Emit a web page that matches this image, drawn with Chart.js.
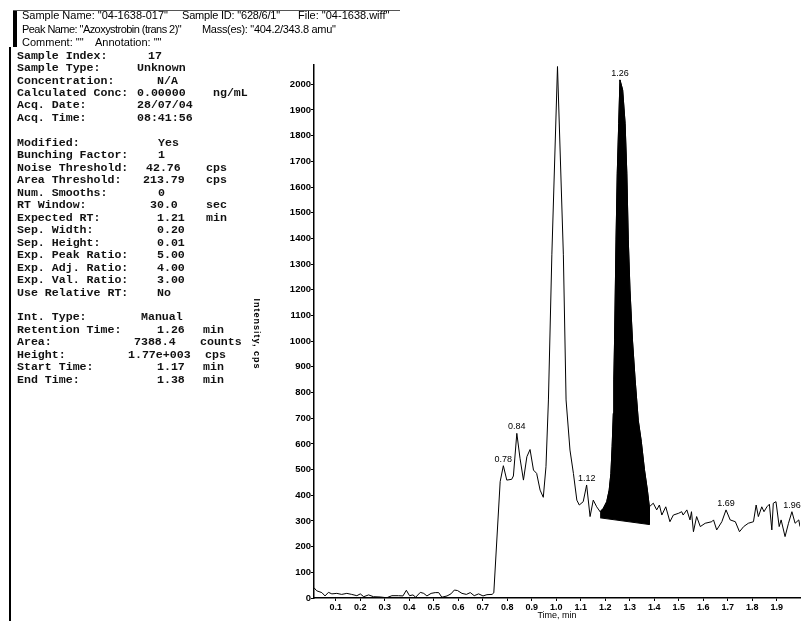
<!DOCTYPE html>
<html>
<head>
<meta charset="utf-8">
<script src="https://cdn.jsdelivr.net/npm/chart.js@4.4.1/dist/chart.umd.min.js"></script>
<style>
  html, body { margin: 0; padding: 0; background: #fff; }
  #wrap { position: relative; width: 801px; height: 621px; overflow: hidden; }
  #chart { position: absolute; left: 0; top: 0; }
  .hdr { position: absolute; font: 11px "Liberation Sans", Arial, sans-serif; white-space: pre; line-height: 1; color: #000; }
  .mono { position: absolute; font: bold 11.6px "Liberation Mono", "Courier New", monospace; white-space: pre; line-height: 1; color: #111; }
  .axt { position: absolute; font: 9px "Liberation Sans", Arial, sans-serif; white-space: pre; line-height: 1; color: #000; }
  #ytitle { font-weight: bold; letter-spacing: 1px; transform: translate(-50%, -50%) rotate(90deg); }
  #xtitle { transform: translate(-50%, -50%); }
  .bar { position: absolute; background: #000; }
</style>
</head>
<body>
<div id="wrap">
  <canvas id="chart" width="801" height="621"></canvas>
  <div class="bar" style="left:13px; top:10px; width:387px; height:1px; background:#555;"></div>
  <div class="bar" style="left:13px; top:11px; width:4px; height:36px;"></div>
  <div class="bar" style="left:9px; top:47px; width:1.5px; height:574px;"></div>

  <div class="hdr" style="left:22px; top:10px;">Sample Name: "04-1638-017"</div>
  <div class="hdr" style="left:182px; top:10px; letter-spacing:-0.2px;">Sample ID: "628/6/1"</div>
  <div class="hdr" style="left:298px; top:10px;">File: "04-1638.wiff"</div>
  <div class="hdr" style="left:22px; top:24px; letter-spacing:-0.55px;">Peak Name: "Azoxystrobin (trans 2)"</div>
  <div class="hdr" style="left:202px; top:24px; letter-spacing:-0.3px;">Mass(es): "404.2/343.8 amu"</div>
  <div class="hdr" style="left:22px; top:37px;">Comment: ""</div>
  <div class="hdr" style="left:95px; top:37px;">Annotation: ""</div>

  <div id="params"></div>

  <div class="axt" id="ytitle" style="left:256px; top:334px;">Intensity, cps</div>
  <div class="axt" id="xtitle" style="left:557px; top:615px;">Time, min</div>
</div>

<script>
// chromatogram trace (time in min, intensity in cps)
const times = [
  0.011, 0.022, 0.043, 0.056, 0.070, 0.084, 0.104, 0.124, 0.145, 0.165,
  0.186, 0.200, 0.214, 0.234, 0.254, 0.281, 0.308, 0.329, 0.356, 0.374,
  0.388, 0.401, 0.415, 0.426, 0.445, 0.459, 0.472, 0.489, 0.506, 0.520,
  0.533, 0.554, 0.570, 0.584, 0.597, 0.615, 0.633, 0.649, 0.665, 0.683,
  0.701, 0.717, 0.738, 0.745, 0.771, 0.784, 0.798, 0.818, 0.825, 0.839,
  0.852, 0.866, 0.880, 0.893, 0.907, 0.920, 0.934, 0.947, 0.958, 0.968,
  0.982, 1.005, 1.029, 1.040, 1.056, 1.070, 1.084, 1.094, 1.110, 1.124,
  1.138, 1.151, 1.165, 1.179, 1.192, 1.206, 1.216, 1.223, 1.228, 1.233,
  1.235, 1.238, 1.244, 1.249, 1.255, 1.260, 1.271, 1.281, 1.288, 1.294,
  1.301, 1.311, 1.322, 1.335, 1.347, 1.360, 1.372, 1.380, 1.396, 1.410,
  1.421, 1.431, 1.447, 1.464, 1.478, 1.500, 1.512, 1.518, 1.533, 1.546,
  1.552, 1.560, 1.573, 1.588, 1.608, 1.635, 1.642, 1.655, 1.676, 1.693,
  1.710, 1.731, 1.748, 1.765, 1.784, 1.805, 1.816, 1.825, 1.839, 1.848,
  1.860, 1.870, 1.880, 1.886, 1.897, 1.910, 1.918, 1.934, 1.948, 1.962,
  1.975, 1.990, 1.995
];
const intensities = [
  40, 28, 21, 8, 22, 16, 18, 14, 18, 14,
  9, 16, 5, 12, 5, 4, 1, 9, 9, 8,
  30, 9, 12, 3, 22, 18, 8, 18, 21, 21,
  3, 8, 16, 31, 29, 18, 14, 21, 9, 16,
  8, 13, 14, 20, 453, 515, 459, 462, 475, 641,
  544, 459, 550, 578, 498, 485, 420, 392, 511, 771,
  1336, 2069, 1336, 771, 576, 485, 381, 362, 375, 440,
  317, 381, 355, 336, 349, 375, 420, 485, 589, 719,
  849, 1005, 1394, 1654, 1848, 2017, 1978, 1848, 1654, 1394,
  1199, 1005, 849, 690, 610, 500, 420, 355, 369, 343,
  362, 323, 355, 297, 323, 330, 336, 323, 343, 304,
  336, 258, 317, 278, 291, 297, 304, 265, 297, 343,
  304, 297, 258, 278, 291, 297, 362, 317, 355, 336,
  355, 365, 265, 369, 375, 278, 304, 239, 291, 336,
  291, 304, 278
];

// integrated peak (start/end) and its drawn baseline
const peakStart = 1.179;
const peakEnd = 1.38;
const baseTimes = [1.38, 1.179];
const baseValues = [286, 312];

// peak apex labels
const labelTimes = [0.784, 0.839, 1.124, 1.26, 1.693, 1.962];
const labelValues = [515, 641, 440, 2017, 343, 336];
const labelTexts = ['0.78', '0.84', '1.12', '1.26', '1.69', '1.96'];

const xTicks = [0.1, 0.2, 0.3, 0.4, 0.5, 0.6, 0.7, 0.8, 0.9, 1.0, 1.1, 1.2, 1.3, 1.4, 1.5, 1.6, 1.7, 1.8, 1.9];
const yTicks = [0, 100, 200, 300, 400, 500, 600, 700, 800, 900, 1000, 1100, 1200, 1300, 1400, 1500, 1600, 1700, 1800, 1900, 2000];

// sample / integration parameters shown at left
const params = [
  [0, 'Sample Index:', '17', 148],
  [1, 'Sample Type:', 'Unknown', 137],
  [2, 'Concentration:', 'N/A', 157],
  [3, 'Calculated Conc:', '0.00000', 137, 'ng/mL', 213],
  [4, 'Acq. Date:', '28/07/04', 137],
  [5, 'Acq. Time:', '08:41:56', 137],
  [7, 'Modified:', 'Yes', 158],
  [8, 'Bunching Factor:', '1', 158],
  [9, 'Noise Threshold:', '42.76', 146, 'cps', 206],
  [10, 'Area Threshold:', '213.79', 143, 'cps', 206],
  [11, 'Num. Smooths:', '0', 158],
  [12, 'RT Window:', '30.0', 150, 'sec', 206],
  [13, 'Expected RT:', '1.21', 157, 'min', 206],
  [14, 'Sep. Width:', '0.20', 157],
  [15, 'Sep. Height:', '0.01', 157],
  [16, 'Exp. Peak Ratio:', '5.00', 157],
  [17, 'Exp. Adj. Ratio:', '4.00', 157],
  [18, 'Exp. Val. Ratio:', '3.00', 157],
  [19, 'Use Relative RT:', 'No', 157],
  [21, 'Int. Type:', 'Manual', 141],
  [22, 'Retention Time:', '1.26', 157, 'min', 203],
  [23, 'Area:', '7388.4', 134, 'counts', 200],
  [24, 'Height:', '1.77e+003', 128, 'cps', 205],
  [25, 'Start Time:', '1.17', 157, 'min', 203],
  [26, 'End Time:', '1.38', 157, 'min', 203]
];

const paramsBox = document.getElementById('params');

function addText(text, left, top) {
  const el = document.createElement('div');
  el.className = 'mono';
  el.style.left = left + 'px';
  el.style.top = top + 'px';
  el.textContent = text;
  paramsBox.appendChild(el);
}

params.forEach(row => {
  const top = 58.5 + row[0] * 12.47 - 8.9;
  addText(row[1], 17, top);
  addText(row[2], row[3], top);
  if (row[4]) addText(row[4], row[5], top);
});

const trace = times.map((t, i) => ({ x: t, y: intensities[i] }));

const peakShape = trace.filter(p => p.x >= peakStart && p.x <= peakEnd);
baseTimes.forEach((t, i) => peakShape.push({ x: t, y: baseValues[i] }));

const peakLabels = {
  id: 'peakLabels',
  afterDatasetsDraw(chart) {
    const { ctx, scales: { x, y } } = chart;
    ctx.save();
    ctx.font = '9px "Liberation Sans", Arial, sans-serif';
    ctx.fillStyle = '#000';
    ctx.textAlign = 'center';
    ctx.textBaseline = 'bottom';
    labelTimes.forEach((t, i) => {
      ctx.fillText(labelTexts[i], x.getPixelForValue(t), y.getPixelForValue(labelValues[i]) - 2);
    });
    ctx.restore();
  }
};

new Chart(document.getElementById('chart'), {
  type: 'line',
  data: {
    datasets: [
      {
        label: 'Integrated peak',
        data: peakShape,
        borderColor: '#000',
        backgroundColor: '#000',
        borderWidth: 1,
        pointRadius: 0,
        tension: 0,
        fill: 'shape'
      },
      {
        label: 'Azoxystrobin (trans 2)',
        data: trace,
        borderColor: '#000',
        borderWidth: 1,
        pointRadius: 0,
        tension: 0,
        fill: false
      }
    ]
  },
  options: {
    responsive: false,
    animation: false,
    layout: { padding: { left: 0, top: 65, right: 1, bottom: 0 } },
    plugins: {
      legend: { display: false },
      tooltip: { enabled: false }
    },
    scales: {
      x: {
        type: 'linear',
        min: 0.011,
        max: 1.995,
        afterFit(scale) { scale.height = 23; },
        afterBuildTicks(scale) { scale.ticks = xTicks.map(v => ({ value: v })); },
        grid: { drawOnChartArea: false, tickLength: 3, color: '#000' },
        border: { color: '#000', width: 1.5 },
        ticks: {
          color: '#000',
          padding: 1,
          autoSkip: false,
          maxRotation: 0,
          font: { family: '"Liberation Sans", Arial, sans-serif', size: 9, weight: 'bold' },
          callback: v => v.toFixed(1)
        }
      },
      y: {
        min: 0,
        max: 2075,
        afterFit(scale) { scale.width = 314; },
        afterBuildTicks(scale) { scale.ticks = yTicks.map(v => ({ value: v })); },
        grid: { drawOnChartArea: false, tickLength: 3, color: '#000' },
        border: { color: '#000', width: 1.5 },
        ticks: {
          color: '#000',
          padding: 0,
          font: { family: '"Liberation Sans", Arial, sans-serif', size: 9.5, weight: 'bold' },
          callback: v => String(v)
        }
      }
    }
  },
  plugins: [peakLabels]
});
</script>
</body>
</html>
